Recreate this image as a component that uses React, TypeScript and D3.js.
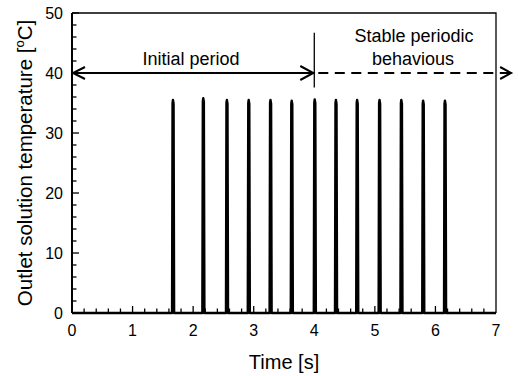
import * as d3 from "d3";
import { useEffect, useRef } from "react";

// pulse centres [s] and peak outlet temperatures [°C]
const pulseTimes = [1.67, 2.17, 2.56, 2.92, 3.28, 3.63, 4.01, 4.36, 4.71, 5.08, 5.44, 5.8, 6.16];
const pulsePeaks = [35.5, 35.8, 35.5, 35.5, 35.5, 35.4, 35.6, 35.5, 35.5, 35.5, 35.5, 35.4, 35.4];

const xTicks = [0, 1, 2, 3, 4, 5, 6, 7];
const yTicks = [0, 10, 20, 30, 40, 50];

const arrowLevel = 40;
const splitTime = 4;
const dashedEnd = 7.25;

const font = "'Liberation Sans', Arial, sans-serif";

export default function App() {
  const ref = useRef<SVGSVGElement | null>(null);

  useEffect(() => {
    if (!ref.current) return;
    const svg = d3.select(ref.current);
    svg.selectAll("*").remove();

    const x = d3.scaleLinear().domain([0, 7]).range([72, 496]);
    const y = d3.scaleLinear().domain([0, 50]).range([313, 13]);

    // build the trace: flat at 0 between narrow pulses
    const pts: [number, number][] = [[0, 0]];
    pulseTimes.forEach((t, i) => {
      const p = pulsePeaks[i];
      pts.push([t - 0.018, 0], [t - 0.01, p - 0.5], [t - 0.003, p], [t + 0.007, p - 0.6], [t + 0.016, 0]);
    });
    pts.push([7, 0]);

    const line = d3
      .line<[number, number]>()
      .x((d) => x(d[0]))
      .y((d) => y(d[1]));

    svg
      .append("path")
      .attr("d", line(pts))
      .attr("fill", "none")
      .attr("stroke", "#000")
      .attr("stroke-width", 2.4)
      .attr("stroke-linejoin", "round");

    // frame
    svg
      .append("path")
      .attr("d", `M${x(0)},${y(50)}H${x(7)}V${y(0)}`)
      .attr("fill", "none")
      .attr("stroke", "#000")
      .attr("stroke-width", 1.3);

    // axes with inward ticks
    const xAxis = svg.append("g").attr("transform", `translate(0,${y(0)})`);
    xAxis
      .append("line")
      .attr("x1", x(0))
      .attr("x2", x(7))
      .attr("stroke", "#000")
      .attr("stroke-width", 2);
    xAxis
      .selectAll("line.minor")
      .data(d3.range(0, 35).map((i) => i * 0.2))
      .enter()
      .append("line")
      .attr("class", "minor")
      .attr("x1", (d) => x(d))
      .attr("x2", (d) => x(d))
      .attr("y1", 0)
      .attr("y2", (d) => (Math.abs(d - Math.round(d)) < 1e-6 ? -7 : -4.5))
      .attr("stroke", "#000")
      .attr("stroke-width", 1.3);
    xAxis
      .selectAll("text")
      .data(xTicks)
      .enter()
      .append("text")
      .attr("x", (d) => x(d))
      .attr("y", 23)
      .attr("text-anchor", "middle")
      .style("font-family", font)
      .style("font-size", "16px")
      .text((d) => d);

    const yAxis = svg.append("g").attr("transform", `translate(${x(0)},0)`);
    yAxis
      .append("line")
      .attr("y1", y(0))
      .attr("y2", y(50))
      .attr("stroke", "#000")
      .attr("stroke-width", 2);
    yAxis
      .selectAll("line.minor")
      .data(d3.range(0, 26).map((i) => i * 2))
      .enter()
      .append("line")
      .attr("class", "minor")
      .attr("y1", (d) => y(d))
      .attr("y2", (d) => y(d))
      .attr("x1", 0)
      .attr("x2", (d) => (d % 10 === 0 ? 7 : 4.5))
      .attr("stroke", "#000")
      .attr("stroke-width", 1.3);
    yAxis
      .selectAll("text")
      .data(yTicks)
      .enter()
      .append("text")
      .attr("x", -9)
      .attr("y", (d) => y(d) + 6)
      .attr("text-anchor", "end")
      .style("font-family", font)
      .style("font-size", "16px")
      .text((d) => d);

    // axis titles
    svg
      .append("text")
      .attr("x", 284)
      .attr("y", 369)
      .attr("text-anchor", "middle")
      .style("font-family", font)
      .style("font-size", "20px")
      .text("Time [s]");

    const yt = svg
      .append("text")
      .attr("transform", `translate(32,${(y(0) + y(50)) / 2}) rotate(-90)`)
      .attr("text-anchor", "middle")
      .style("font-family", font)
      .style("font-size", "20.5px");
    yt.append("tspan").text("Outlet solution temperature [");
    yt.append("tspan").attr("dy", -8).style("font-size", "13px").text("o");
    yt.append("tspan").attr("dy", 8).text("C]");

    // period arrows
    const ay = y(arrowLevel);
    const g = svg.append("g").attr("stroke", "#000").attr("fill", "none").attr("stroke-width", 2);
    g.append("line").attr("x1", x(0) + 1).attr("x2", x(splitTime)).attr("y1", ay).attr("y2", ay);
    g.append("path").attr("d", `M${x(0) + 13},${ay - 6}L${x(0) + 1},${ay}L${x(0) + 13},${ay + 6}`);
    g.append("path").attr("d", `M${x(splitTime) - 14},${ay - 7}L${x(splitTime) - 1},${ay}L${x(splitTime) - 14},${ay + 7}`);
    g.append("line")
      .attr("x1", x(splitTime))
      .attr("x2", x(splitTime))
      .attr("y1", y(46.7))
      .attr("y2", y(37.6))
      .attr("stroke-width", 1.3);
    g.append("line")
      .attr("x1", x(splitTime) + 4)
      .attr("x2", x(dashedEnd))
      .attr("y1", ay)
      .attr("y2", ay)
      .attr("stroke-dasharray", "10,6.5");
    g.append("path").attr("d", `M${x(dashedEnd) - 11},${ay - 6}L${x(dashedEnd)},${ay}L${x(dashedEnd) - 11},${ay + 6}`);

    const label = (tx: number, ty: number, s: string) =>
      svg
        .append("text")
        .attr("x", tx)
        .attr("y", ty)
        .attr("text-anchor", "middle")
        .style("font-family", font)
        .style("font-size", "18px")
        .text(s);
    label(191, 65, "Initial period");
    label(414, 42, "Stable periodic");
    label(413, 65, "behavious");
  }, []);

  return (
    <svg
      ref={ref}
      width={518}
      height={376}
      style={{ position: "absolute", left: 0, top: 0, background: "#fff" }}
    ></svg>
  );
}
